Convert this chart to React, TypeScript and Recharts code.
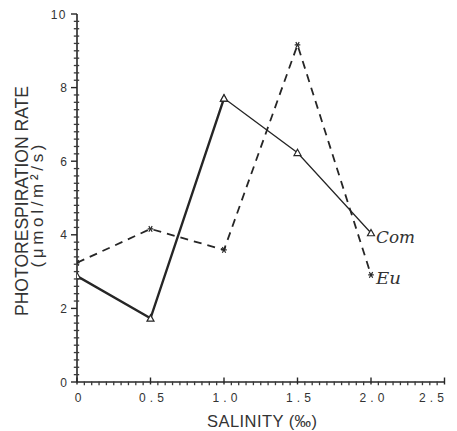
import React from "react";
import { LineChart, Line, XAxis, YAxis } from "recharts";

const salinity = [0, 0.5, 1.0, 1.5, 2.0];
const comRate = [2.88, 1.73, 7.71, 6.23, 4.05];
const euRate = [3.24, 4.16, 3.59, 9.16, 2.91];

const xMajorTicks = [0, 0.5, 1.0, 1.5, 2.0, 2.5];
const xTickLabels = ["0", "0.5", "1.0", "1.5", "2.0", "2.5"];
const yMajorTicks = [0, 2, 4, 6, 8, 10];
const yTickLabels = ["0", "2", "4", "6", "8", "10"];
const MINOR_PER_MAJOR = 10;

const rows = salinity.map((s, i) => ({ s, com: comRate[i], eu: euRate[i] }));
const comFirst = rows.slice(0, 3);
const comSecond = rows.slice(2);

const CHART_W = 457;
const CHART_H = 431;
const M_TOP = 14;
const M_RIGHT = 12.5;
const Y_W = 77;
const X_H = 49;

const INK = "#262626";
const TEXT = "#333";

const XTick = (props: any) => {
  const { x, y, index } = props;
  const axisW = typeof props.width === "number" && props.width > 100 ? props.width : CHART_W - Y_W - M_RIGHT;
  const step = axisW / ((xMajorTicks.length - 1) * MINOR_PER_MAJOR);
  const label = xTickLabels[index];
  const last = index === xMajorTicks.length - 1;
  const minors = [];
  if (!last) {
    for (let k = 1; k < MINOR_PER_MAJOR; k++) {
      const mx = x + k * step;
      minors.push(<line key={k} x1={mx} x2={mx} y1={y - 0.5} y2={y + 3.2} stroke="#3a3a3a" strokeWidth={1.3} />);
    }
  }
  return (
    <g>
      {minors}
      <line x1={x} x2={x} y1={y - 4.5} y2={y + 2.5} stroke={INK} strokeWidth={1.4} />
      <text
        x={last ? x - 13 : x + 1}
        y={y + 20}
        textAnchor="middle"
        fontSize={12}
        fontFamily="Liberation Sans, Arial, sans-serif"
        fill={TEXT}
        {...(label.length > 1 ? { textLength: 25, lengthAdjust: "spacing" } : {})}
      >
        {label}
      </text>
    </g>
  );
};

const YTick = (props: any) => {
  const { x, y, index } = props;
  const axisH = typeof props.height === "number" && props.height > 100 ? props.height : CHART_H - M_TOP - X_H;
  const step = axisH / ((yMajorTicks.length - 1) * MINOR_PER_MAJOR);
  const last = index === yMajorTicks.length - 1;
  const minors = [];
  if (!last) {
    for (let k = 1; k < MINOR_PER_MAJOR; k++) {
      const my = y - k * step;
      minors.push(<line key={k} x1={x - 3.2} x2={x + 2.2} y1={my} y2={my} stroke="#3a3a3a" strokeWidth={1.3} />);
    }
  }
  return (
    <g>
      {minors}
      <line x1={x - 6} x2={x} y1={y} y2={y} stroke={INK} strokeWidth={1.4} />
      <text
        x={x - 10}
        y={y + 4.5}
        textAnchor="end"
        fontSize={12}
        fontFamily="Liberation Sans, Arial, sans-serif"
        fill={TEXT}
        letterSpacing={yTickLabels[index].length > 1 ? 1.5 : 0}
      >
        {yTickLabels[index]}
      </text>
    </g>
  );
};

const TriDot = (props: any) => {
  const { cx, cy, index } = props;
  if (cx == null || cy == null) return <g key={index} />;
  return (
    <path
      key={index}
      d={`M${cx},${cy - 3.5} L${cx + 3.5},${cy + 2.8} L${cx - 3.5},${cy + 2.8} Z`}
      fill="#fff"
      stroke={INK}
      strokeWidth={1.2}
    />
  );
};

const StarDot = (props: any) => {
  const { cx, cy, index } = props;
  if (cx == null || cy == null) return <g key={index} />;
  const r = 2.8;
  return (
    <g key={index} stroke={INK} strokeWidth={1.2}>
      <line x1={cx - r} x2={cx + r} y1={cy} y2={cy} />
      <line x1={cx - r * 0.6} x2={cx + r * 0.6} y1={cy - r} y2={cy + r} />
      <line x1={cx + r * 0.6} x2={cx - r * 0.6} y1={cy - r} y2={cy + r} />
    </g>
  );
};

const endLabel = (text: string, lastIndex: number, dy: number, len: number) => (props: any) => {
  const { x, y, index } = props;
  if (index !== lastIndex) return null;
  return (
    <text
      x={x + 5}
      y={y + dy}
      fontSize={17}
      fontStyle="italic"
      fontFamily="DejaVu Serif, serif"
      fill={TEXT}
      textLength={len}
      lengthAdjust="spacingAndGlyphs"
    >
      {text}
    </text>
  );
};

const YTitle = () => (
  <g fill={TEXT} fontFamily="Liberation Sans, Arial, sans-serif">
    <text
      x={28}
      y={201}
      transform="rotate(-90 28 201)"
      textAnchor="middle"
      fontSize={18.5}
      textLength={230}
      lengthAdjust="spacingAndGlyphs"
    >
      PHOTORESPIRATION RATE
    </text>
    <text
      x={43}
      y={206}
      transform="rotate(-90 43 206)"
      textAnchor="middle"
      fontSize={17}
      textLength={123}
      lengthAdjust="spacing"
    >
      (μmol/m²/s)
    </text>
  </g>
);

const XTitle = () => (
  <text
    x={262}
    y={427}
    textAnchor="middle"
    fontSize={16.5}
    fontFamily="Liberation Sans, Arial, sans-serif"
    fill={TEXT}
    textLength={110}
    lengthAdjust="spacing"
  >
    SALINITY (‰)
  </text>
);

export default function App() {
  return (
    <div style={{ position: "absolute", left: 0, top: 0, width: CHART_W, height: CHART_H, background: "#fff" }}>
      <LineChart width={CHART_W} height={CHART_H} data={rows} margin={{ top: M_TOP, right: M_RIGHT, left: 0, bottom: 0 }}>
        <XAxis
          dataKey="s"
          type="number"
          domain={[0, 2.5]}
          ticks={xMajorTicks}
          interval={0}
          tick={XTick}
          tickLine={false}
          tickSize={0}
          tickMargin={0}
          height={X_H}
          axisLine={{ stroke: INK, strokeWidth: 1.6 }}
          allowDataOverflow
          label={{ content: () => <XTitle /> }}
        />
        <YAxis
          type="number"
          domain={[0, 10]}
          ticks={yMajorTicks}
          interval={0}
          tick={YTick}
          tickLine={false}
          tickSize={0}
          tickMargin={0}
          width={Y_W}
          axisLine={{ stroke: INK, strokeWidth: 1.6 }}
          allowDataOverflow
          label={{ content: () => <YTitle /> }}
        />
        <Line
          data={rows}
          dataKey="eu"
          stroke={INK}
          strokeWidth={1.8}
          strokeDasharray="8 6"
          dot={StarDot}
          activeDot={false}
          isAnimationActive={false}
          label={endLabel("Eu", 4, 9, 25)}
        />
        <Line
          data={comFirst}
          dataKey="com"
          stroke={INK}
          strokeWidth={2.4}
          dot={TriDot}
          activeDot={false}
          isAnimationActive={false}
        />
        <Line
          data={comSecond}
          dataKey="com"
          stroke={INK}
          strokeWidth={1.3}
          dot={TriDot}
          activeDot={false}
          isAnimationActive={false}
          label={endLabel("Com", 2, 10, 39)}
        />
      </LineChart>
    </div>
  );
}
